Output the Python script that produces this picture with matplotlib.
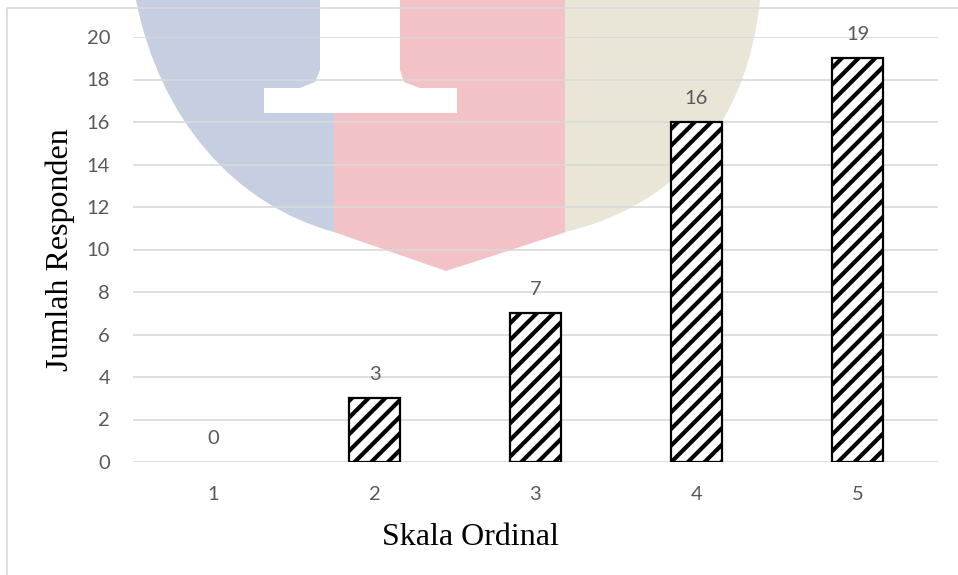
import matplotlib
matplotlib.use("Agg")
import matplotlib.pyplot as plt
from matplotlib.path import Path
from matplotlib.patches import PathPatch, Polygon

# ---- data ----
categories = ["1", "2", "3", "4", "5"]
values = [0, 3, 7, 16, 19]
yticks = [0, 2, 4, 6, 8, 10, 12, 14, 16, 18, 20]
xlabel = "Skala Ordinal"
ylabel = "Jumlah Responden"

W, H = 958, 575
plt.rcParams["hatch.linewidth"] = 3.0
fig = plt.figure(figsize=(W / 100, H / 100), dpi=100)

# ---- background watermark + chart frame (pixel coordinates) ----
bg = fig.add_axes([0, 0, 1, 1], zorder=0)
bg.set_xlim(0, W)
bg.set_ylim(H, 0)
bg.axis("off")

blue = "#c6cee1"
red = "#f2c2c6"
beige = "#e9e5d7"

blue_path = Path(
    [(136, -5), (136, 0), (160, 120), (235, 205), (334, 232), (334, -5), (136, -5)],
    [Path.MOVETO, Path.LINETO, Path.CURVE4, Path.CURVE4, Path.CURVE4, Path.LINETO, Path.CLOSEPOLY],
)
bg.add_patch(PathPatch(blue_path, facecolor=blue, edgecolor="none"))
bg.add_patch(Polygon([(334, -5), (566, -5), (566, 232), (446, 271), (334, 232)],
                     closed=True, facecolor=red, edgecolor="none"))
beige_path = Path(
    [(565, -5), (760, -5), (760, 0), (748, 120), (680, 205), (565, 232), (565, -5)],
    [Path.MOVETO, Path.LINETO, Path.LINETO, Path.CURVE4, Path.CURVE4, Path.CURVE4, Path.CLOSEPOLY],
)
bg.add_patch(PathPatch(beige_path, facecolor=beige, edgecolor="none"))
bg.add_patch(Polygon([(320, -5), (320, 70), (315, 82), (300, 88), (264, 88), (264, 113),
                      (457, 113), (457, 88), (420, 88), (404, 82), (400, 70), (400, -5)],
                     closed=True, facecolor="white", edgecolor="none"))
bg.plot([7, 7, W + 5], [H + 5, 8, 8], color="#d9d9d9", lw=1.2, solid_capstyle="butt")

# ---- main chart ----
left, right, top, bottom = 133, 938, 37, 462
ax = fig.add_axes([left / W, (H - bottom) / H, (right - left) / W, (bottom - top) / H], zorder=1)
ax.set_facecolor("none")

x = list(range(len(categories)))
bars = ax.bar(x, values, width=0.315, color="white", edgecolor="black",
              hatch="//", linewidth=1.6, zorder=3)
for b, v in zip(bars, values):
    if v == 0:
        b.set_linewidth(0)
        b.set_hatch(None)

for xi, v in zip(x, values):
    ax.annotate(str(v), (xi, v), xytext=(0, 13), textcoords="offset points",
                ha="center", va="baseline", fontsize=14.5, family="Lato",
                color="#595959", annotation_clip=False)

ax.set_xlim(-0.5, len(categories) - 0.5)
ax.set_ylim(0, 20)
ax.set_yticks(yticks)
ax.set_xticks(x)
ax.set_xticklabels(categories)
ax.grid(axis="y", color="#d9d9d9", lw=1.2, zorder=1)
ax.set_axisbelow(True)
for s in ax.spines.values():
    s.set_visible(False)
ax.tick_params(axis="both", length=0, labelsize=14.5, labelcolor="#595959")
ax.tick_params(axis="x", pad=17)
ax.tick_params(axis="y", pad=16.5)
for lab in ax.get_xticklabels() + ax.get_yticklabels():
    lab.set_family("Lato")

fig.text(470 / W, 1 - 545 / H, xlabel, ha="center", va="baseline",
         fontsize=23, family="Liberation Serif", color="black")
fig.text(60 / W, 1 - 250 / H, ylabel, ha="center", va="center", rotation=90,
         fontsize=23, family="Liberation Serif", color="black")

fig.savefig("out.png", dpi=100)
